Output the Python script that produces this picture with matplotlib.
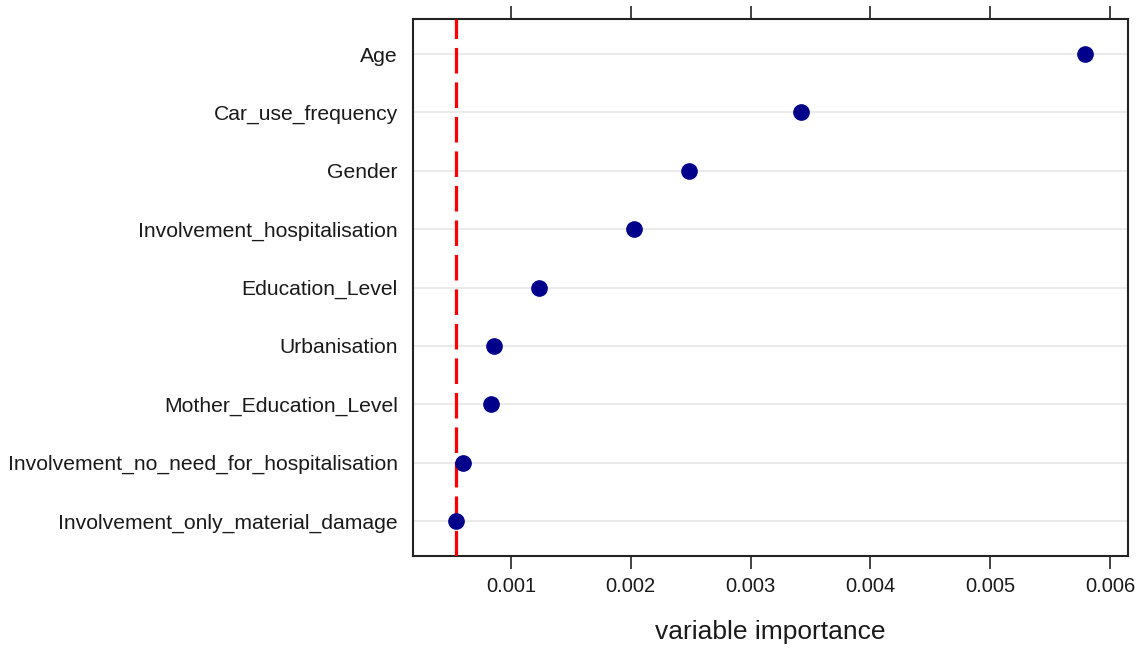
import matplotlib
matplotlib.use("Agg")
import matplotlib.pyplot as plt

plt.rcParams["font.family"] = ["Liberation Sans", "DejaVu Sans"]

# variables, top to bottom
variables = ["Age", "Car_use_frequency", "Gender", "Involvement_hospitalisation",
             "Education_Level", "Urbanisation", "Mother_Education_Level",
             "Involvement_no_need_for_hospitalisation",
             "Involvement_only_material_damage"]
importance = [0.005791, 0.003421, 0.002486, 0.002027, 0.001234,
              0.000858, 0.000833, 0.000599, 0.000541]
threshold = 0.000541
xticks = [0.001, 0.002, 0.003, 0.004, 0.005, 0.006]
xtick_labels = ["0.001", "0.002", "0.003", "0.004", "0.005", "0.006"]

fig = plt.figure(figsize=(11.42, 6.53), dpi=100)
ax = fig.add_axes([0.3616, 0.1485, 0.6261, 0.8224])

n = len(variables)
ypos = list(range(n, 0, -1))

for y in ypos:
    ax.axhline(y, color="#e6e6e6", lw=1.2, zorder=1)

ax.plot(importance, ypos, "o", color="#00008b", ms=11, ls="none", zorder=4)
ax.axvline(threshold, color="#ff0000", lw=2.3, dashes=(8, 2.8), zorder=3)

ax.set_xlim(0.000182, 0.00615)
ax.set_ylim(0.4, n + 0.6)
ax.set_yticks(ypos)
ax.set_yticklabels(variables, fontsize=15.2, color="#1a1a1a")
ax.tick_params(axis="y", length=0, pad=11)

ax.set_xticks(xticks)
ax.set_xticklabels(xtick_labels, fontsize=14.5, color="#1a1a1a")
ax.tick_params(axis="x", which="both", direction="out", length=9.3, width=1.2,
               top=True, bottom=True, labeltop=False, pad=6, color="#222222")

for s in ax.spines.values():
    s.set_linewidth(1.5)
    s.set_color("#222222")

ax.set_xlabel("variable importance", fontsize=19, labelpad=17, color="#1a1a1a")

fig.savefig("out.png", dpi=100)
